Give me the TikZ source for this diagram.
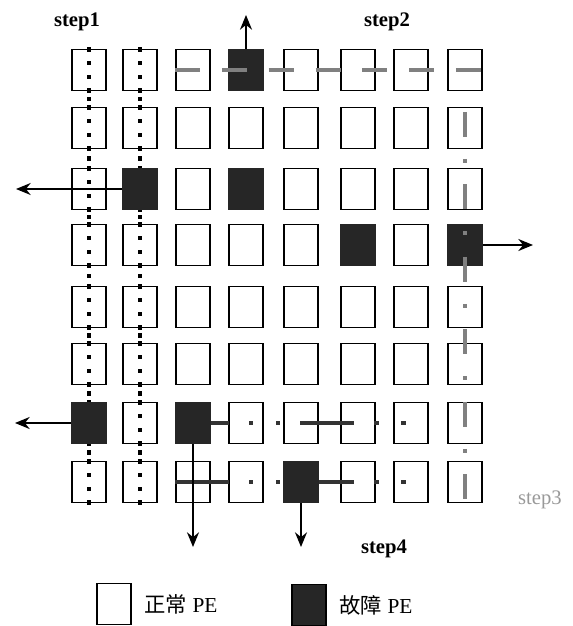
\documentclass[tikz,border=0pt]{standalone}
\usepackage{fontspec}
\setmainfont{Liberation Serif}
\newfontfamily\cjk{Noto Sans CJK SC}
\usetikzlibrary{arrows.meta,positioning}

\tikzset{
    pe/.style={draw, line width=1.3pt, minimum width=25.5pt, minimum height=30.75pt, inner sep=0pt},
    fault/.style={fill=black!85},
    flow/.style={line width=1.1pt, -{Stealth[length=11pt,width=9pt]}},
    steplbl/.style={font=\fontsize{15.5}{18}\selectfont\bfseries},
    keylbl/.style={font=\fontsize{16}{19}\selectfont, right=6pt of #1},
    trace/.style={line width=3.2pt, draw=black!50},
    reroute/.style={line width=3.6pt, draw=black!80},
}

\begin{document}
\begin{tikzpicture}[x=0.75pt, y=-0.75pt]
    \useasboundingbox (0,0) rectangle (573,626);

    % PE array (8 x 8)
    \foreach \c/\x in {1/89,2/140,3/193,4/246,5/301,6/358,7/411,8/465} {
        \foreach \r/\y in {1/70,2/128,3/189,4/245,5/307,6/364,7/423,8/482} {
            \node[pe] (pe-\r-\c) at (\x,\y) {};
        }
    }

    % step1: the two left columns
    \foreach \x in {89,140} {
        \foreach \y in {70,128,189,245,307,364,423,482} {
            \foreach \d in {-20.5,-7,7,20.5}
                \fill (\x-2.3,\y+\d-2.3) rectangle +(4.6,4.6);
        }
        \foreach \y in {99,158.5,217,276,335.5,393.5,452.5}
            \fill (\x-2.3,\y-2.3) rectangle +(4.6,4.6);
    }

    % step4: the two bottom rows
    \foreach \r in {7,8}
        \draw[reroute, dash pattern=on 40.5pt off 15pt on 3.2pt off 17pt on 3.2pt off 15pt]
            (pe-\r-3.west) -- (pe-\r-7.center);

    % faulty PEs
    \foreach \r/\c in {1/4,3/2,3/4,4/6,4/8,7/1,7/3,8/5}
        \fill[fault] (pe-\r-\c.south west) rectangle (pe-\r-\c.north east);

    % step2 (top row) and step3 (right column)
    \draw[trace, dash pattern=on 18.75pt off 16.35pt] (pe-1-3.west) -- (pe-1-8.east);
    \draw[trace, dash pattern=on 18.75pt off 16.5pt on 3pt off 16.1pt, dash phase=50.35pt]
        (pe-2-8.north) -- (pe-8-8.south);

    % faulty PEs leave the array
    \coordinate (exitN) at (246,15);
    \coordinate (exitW1) at (16,189);
    \coordinate (exitE) at (533,245);
    \coordinate (exitW2) at (15,423);
    \coordinate (exitS1) at (193,547);
    \coordinate (exitS2) at (301,547);
    \draw[flow] (pe-1-4) -- (exitN);
    \draw[flow] (pe-3-2) -- (exitW1);
    \draw[flow] (pe-4-8) -- (exitE);
    \draw[flow] (pe-7-1) -- (exitW2);
    \draw[flow] (pe-7-3) -- (exitS1);
    \draw[flow] (pe-8-5) -- (exitS2);

    % labels
    \node[steplbl] (step1) at (77,22) {step1};
    \node[steplbl] (step2) at (387,22) {step2};
    \node[steplbl, font=\fontsize{15.5}{18}\selectfont, text=black!40] (step3) at (540,500) {step3};
    \node[steplbl] (step4) at (384,549) {step4};

    % legend
    \node[pe] (key-ok) at (114,604) {};
    \node[keylbl=key-ok] (key-ok-txt) {{\cjk 正常} PE};
    \node[pe, fault] (key-bad) at (309,605) {};
    \node[keylbl=key-bad] (key-bad-txt) {{\cjk 故障} PE};
\end{tikzpicture}
\end{document}
